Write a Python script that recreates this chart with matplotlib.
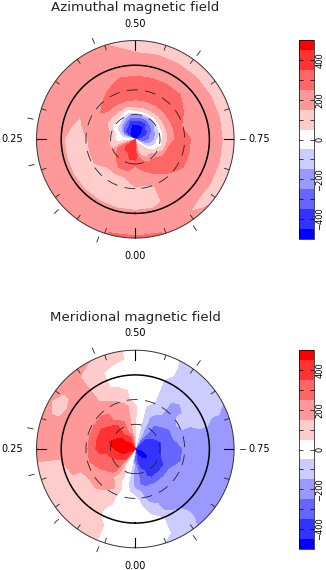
import numpy as np
import matplotlib
matplotlib.use('Agg')
import matplotlib.pyplot as plt

# one row per phase (0, 1/24, ... 23/24), one value per radius
radii = [0, .06, .12, .18, .24, .30, .36, .44, .52, .60, .68, .76, .84, .92, 1.04]

azimuthal = [
    [400, 400, 400, 400, 300, 200, 200, 200, 100, 100, 100, 200, 200, 200, 300],
    [400, 400, 400, 400, 300, 300, 200, 100, 100, 100, 100, 200, 200, 200, 300],
    [400, 400, 400, 300, 300, 300, 200, 100, 100, 100, 100, 200, 200, 200, 200],
    [400, 400, 400, 300, 300, 200, 200, 100, 100, 100, 100, 200, 200, 200, 200],
    [300, 300, 300, 300, 200, 200, 200, 200, 100, 100, 100, 200, 200, 200, 200],
    [100, 100, 100, 100, 100, 200, 200, 200, 100, 100, 100, 200, 200, 200, 200],
    [0, 0, 0, 0, 100, 200, 200, 200, 100, 100, 100, 200, 200, 200, 200],
    [-100, -100, -100, 0, 100, 200, 200, 200, 200, 100, 200, 200, 200, 200, 200],
    [-500, -400, -300, -100, 0, 100, 200, 200, 200, 200, 200, 200, 200, 200, 200],
    [-500, -500, -400, -200, 0, 100, 200, 300, 200, 200, 200, 200, 200, 200, 200],
    [-500, -500, -400, -300, -100, 100, 200, 300, 300, 200, 200, 200, 200, 200, 200],
    [-500, -500, -500, -400, -200, 0, 200, 300, 300, 300, 200, 200, 200, 200, 100],
    [-500, -500, -500, -400, -200, 100, 200, 300, 300, 300, 200, 200, 200, 100, 100],
    [-500, -500, -500, -400, -200, 100, 200, 300, 300, 300, 200, 200, 200, 100, 100],
    [-500, -500, -500, -400, -200, 100, 200, 300, 300, 300, 200, 200, 200, 100, 100],
    [-500, -500, -400, -300, -200, 100, 200, 300, 300, 300, 200, 200, 200, 100, 100],
    [-500, -400, -400, -300, -100, 100, 200, 300, 300, 200, 200, 200, 200, 100, 100],
    [-400, -400, -300, -200, -100, 100, 200, 300, 200, 200, 200, 200, 200, 100, 100],
    [-400, -300, -300, -200, 0, 100, 200, 300, 300, 200, 200, 200, 200, 100, 100],
    [-300, -300, -200, -100, 0, 100, 300, 300, 300, 200, 200, 200, 200, 100, 100],
    [-200, -100, -100, 0, 100, 200, 300, 300, 300, 200, 200, 200, 200, 100, 100],
    [0, 0, 100, 100, 200, 300, 300, 300, 200, 200, 200, 200, 200, 100, 200],
    [0, 100, 100, 100, 200, 300, 300, 200, 200, 200, 200, 200, 200, 200, 200],
    [100, 100, 100, 200, 300, 300, 200, 200, 100, 100, 100, 200, 200, 200, 300],
]

meridional = [
    [-300, -300, -300, -200, -200, -200, -200, -100, 0, 0, 0, 0, 0, 0, 0],
    [0, 0, 0, 0, 0, 0, 0, 0, 0, 0, 0, 0, 0, 0, 0],
    [0, 0, 0, 0, 100, 100, 100, 170, 100, 100, 60, 60, 100, 100, 100],
    [300, 400, 400, 300, 300, 300, 200, 200, 200, 100, 100, 100, 100, 100, 100],
    [400, 400, 400, 400, 300, 300, 300, 200, 200, 100, 100, 100, 100, 100, 100],
    [500, 500, 500, 400, 400, 300, 300, 300, 200, 200, 200, 100, 100, 100, 100],
    [500, 500, 500, 500, 400, 400, 400, 300, 200, 200, 200, 200, 200, 200, 200],
    [500, 500, 500, 500, 500, 400, 400, 300, 200, 200, 200, 200, 200, 200, 200],
    [500, 500, 500, 500, 400, 400, 400, 300, 200, 200, 200, 200, 100, 100, 200],
    [500, 500, 400, 400, 400, 400, 300, 300, 200, 200, 200, 200, 200, 200, 200],
    [400, 400, 400, 300, 300, 300, 200, 200, 200, 100, 100, 100, 100, 100, 200],
    [300, 300, 300, 200, 200, 200, 200, 200, 100, 100, 0, 0, 0, 100, 100],
    [60, 60, 60, 60, 60, 60, 60, 60, 0, 0, 0, 0, 0, 0, 0],
    [-60, -60, -60, -60, -60, -60, -60, -60, 0, 0, 0, 0, 0, 0, 0],
    [-300, -300, -200, -200, -200, -200, -200, -100, -100, -100, -100, -100, -60, -60, -70],
    [-400, -400, -400, -300, -300, -300, -200, -200, -200, -200, -100, -100, -100, -100, -100],
    [-400, -400, -400, -400, -300, -300, -300, -200, -100, -100, -100, -100, -100, -100, -150],
    [-400, -400, -400, -400, -400, -300, -300, -200, -200, -200, -160, -160, -200, -200, -200],
    [-500, -400, -400, -400, -400, -300, -300, -300, -200, -200, -200, -200, -200, -200, -200],
    [-500, -500, -400, -400, -400, -300, -300, -300, -200, -200, -200, -200, -200, -200, -200],
    [-500, -500, -500, -400, -400, -400, -300, -200, -200, -200, -200, -200, -200, -200, -200],
    [-500, -500, -500, -400, -400, -400, -300, -200, -200, -200, -200, -200, -170, -170, -200],
    [-500, -500, -400, -400, -400, -400, -300, -200, -200, -200, -200, -100, -100, -100, -100],
    [-400, -400, -400, -400, -300, -300, -300, -200, -200, -100, -60, 0, 0, 0, -55],
]

levels = [-500, -450, -350, -250, -150, -50, 50, 150, 250, 350, 450, 500]
colors = ['#0000ff', '#3333ff', '#6666ff', '#9999ff', '#ccccff', '#ffffff',
          '#ffcccc', '#ff9999', '#ff6666', '#ff3333', '#ff0000']
bar_ticks = [-400, -300, -200, -100, 0, 100, 200, 300, 400]
bar_labels = ['\u2212400', '', '\u2212200', '', '0', '', '200', '', '400']
observed_phases = [.057, .132, .211, .281, .436, .601, .75, .906]
inner_phases = [.05, .10, .15, .20, .30, .35, .40, .45, .55, .60, .65, .70, .80, .85, .90, .95]
main_phases = [0, .25, .5, .75]

W, H = 326, 570


def panel(field, title, cy, bar_top):
    R = 98.8
    cx = 135.3
    ax = fig.add_axes([(cx - R) / W, 1 - (cy + R) / H, 2 * R / W, 2 * R / H], projection='polar')
    ax.set_theta_zero_location('S')
    ax.set_theta_direction(-1)
    z = np.array(field, dtype=float).T
    z = np.column_stack([z, z[:, 0]])
    phases = np.arange(25) / 24.0
    cs = ax.contourf(phases * 2 * np.pi, radii, z, levels=levels, colors=colors)
    ax.set_rlim(0, 1)
    ax.axis('off')

    circle = np.linspace(0, 2 * np.pi, 361)
    ax.plot(circle, np.full(361, 1.0), color='#333333', lw=0.7, clip_on=False)
    ax.plot(circle, np.full(361, 0.75), color='black', lw=1.1)
    for r in [0.25, 0.5]:
        ax.plot(circle, np.full(361, r), color='#222222', lw=0.6, dashes=(13, 9))
    for p in inner_phases:
        ax.plot([p * 2 * np.pi] * 2, [0.95, 1.0], color='#222222', lw=0.6)
    for p in main_phases:
        ax.plot([p * 2 * np.pi] * 2, [0.9, 1.0], color='black', lw=0.8)
    for p in observed_phases:
        ax.plot([p * 2 * np.pi] * 2, [1.055, 1.11], color='#222222', lw=0.6, clip_on=False)

    ax.text(0.5 * 2 * np.pi, 1.17, '0.50', ha='center', va='center', fontsize=7, clip_on=False)
    ax.text(0.0, 1.18, '0.00', ha='center', va='center', fontsize=7, clip_on=False)
    ax.text(0.25 * 2 * np.pi, 1.25, '0.25', ha='center', va='center', fontsize=7, clip_on=False)
    ax.text(0.75 * 2 * np.pi, 1.25, '0.75', ha='center', va='center', fontsize=7, clip_on=False)
    ax.text(0.5 * 2 * np.pi, 1.33, title, ha='center', va='center', fontsize=9.6, color='#222222', clip_on=False)

    cax = fig.add_axes([299 / W, 1 - (bar_top + 199) / H, 14.5 / W, 199 / H])
    cb = fig.colorbar(cs, cax=cax, ticks=bar_ticks, spacing='proportional')
    cb.ax.set_yticklabels(bar_labels, rotation=90, va='center', fontsize=6)
    cb.ax.tick_params(direction='in', left=True, right=True, length=3, width=0.5, pad=1.5)
    cb.outline.set_linewidth(0.5)


fig = plt.figure(figsize=(W / 100.0, H / 100.0), dpi=100)
panel(azimuthal, 'Azimuthal magnetic field', 139.3, 40)
panel(meridional, 'Meridional magnetic field', 449, 350)
fig.savefig('out.png', dpi=100)
